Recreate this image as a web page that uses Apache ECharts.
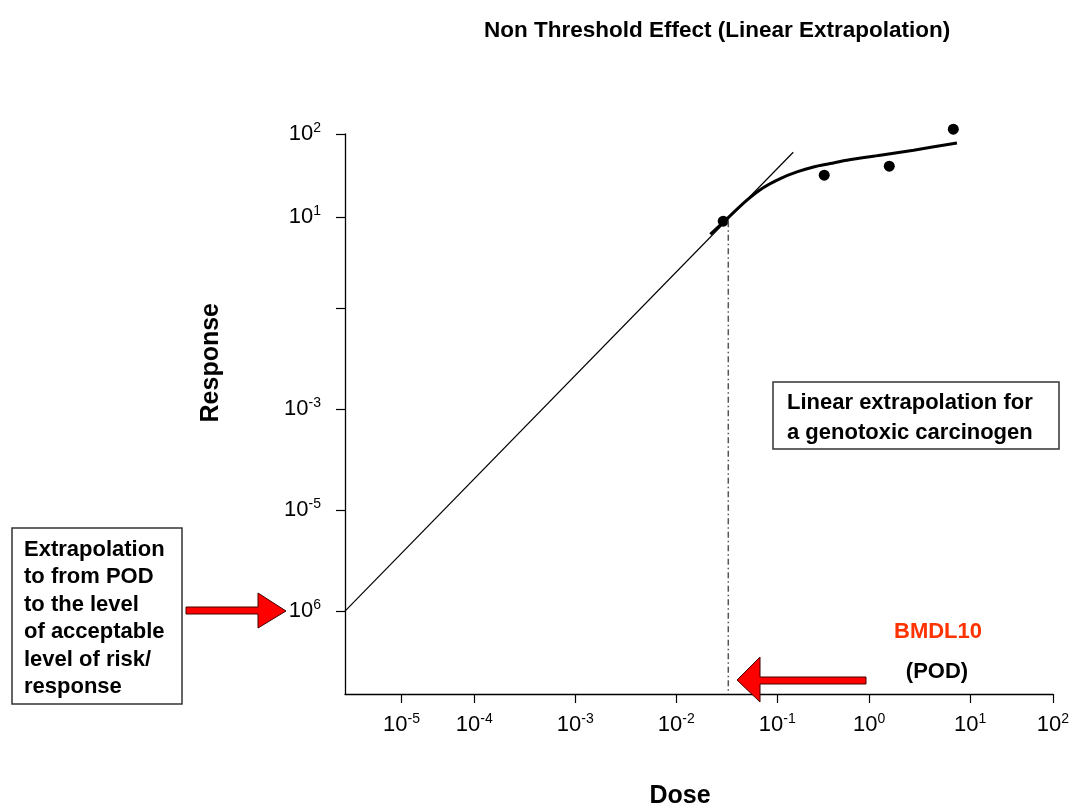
<!DOCTYPE html>
<html>
<head>
<meta charset="utf-8">
<script src="https://cdn.jsdelivr.net/npm/echarts@6/dist/echarts.min.js"></script>
<style>
  html, body { margin: 0; padding: 0; background: #fff; }
  #main { width: 1072px; height: 808px; }
</style>
</head>
<body>
<div id="main"></div>
<script>
// schematic axes: tick positions along the drawn axis and the exponent printed at each
var doseTicks = [-4.72, -4, -3, -2, -1, -0.09, 0.91, 1.73];
var doseTickLabels = ['-5', '-4', '-3', '-2', '-1', '0', '1', '2'];
var respTicks = [2.45, 0.8, -1, -3, -5, -7];
var respTickLabels = ['2', '1', '', '-3', '-5', '6'];

// observed responses
var obsDose = [-1.535, -0.535, 0.109, 0.743];
var obsResp = [0.723, 1.634, 1.812, 2.545];

// fitted dose-response curve
var fitDose = [-1.663, -1.532, -1.300, -1.136, -0.970, -0.805, -0.641, -0.475, -0.310, 0.020, 0.350, 0.779];
var fitResp = [0.465, 0.709, 1.139, 1.390, 1.568, 1.699, 1.798, 1.865, 1.931, 2.030, 2.129, 2.273];

// linear extrapolation from the POD down to the acceptable level
var lineDose = [-5.28, -0.842];
var lineResp = [-7.0, 2.089];

// BMDL10 (POD)
var podDose = -1.485;
var podResp = 0.72;

var FONT = "'Liberation Sans', Arial, sans-serif";

function pairs(xs, ys) {
    var out = [];
    for (var i = 0; i < xs.length; i++) {
        out.push([xs[i], ys[i]]);
    }
    return out;
}

function powLabel(ticks, labels) {
    return function (value) {
        for (var i = 0; i < ticks.length; i++) {
            if (Math.abs(ticks[i] - value) < 1e-6) {
                if (labels[i] === '') return '';
                return '{b|10}{s|' + labels[i] + '}';
            }
        }
        return '';
    };
}

var richPow = {
    b: { fontSize: 22, lineHeight: 26, fontFamily: FONT, color: '#000' },
    s: { fontSize: 14, lineHeight: 14, verticalAlign: 'top', fontFamily: FONT, color: '#000' }
};

var chart = echarts.init(document.getElementById('main'));

var option = {
    animation: false,
    backgroundColor: '#fff',
    title: {
        text: 'Non Threshold Effect (Linear Extrapolation)',
        left: 479,
        top: 14,
        textStyle: { fontFamily: FONT, fontSize: 22.5, fontWeight: 'bold', color: '#000' }
    },
    grid: { left: 345, top: 134, width: 708, height: 560, containLabel: false, outerBoundsMode: 'none' },
    xAxis: {
        type: 'value',
        min: -5.28,
        max: 1.73,
        splitLine: { show: false },
        axisLine: { onZero: false, lineStyle: { color: '#000', width: 1.3 } },
        axisTick: { customValues: doseTicks, length: 9, lineStyle: { color: '#000', width: 1.2 } },
        axisLabel: {
            customValues: doseTicks,
            margin: 18,
            formatter: powLabel(doseTicks, doseTickLabels),
            rich: richPow
        },
        name: 'Dose',
        nameLocation: 'middle',
        nameGap: 90,
        nameTextStyle: { fontFamily: FONT, fontSize: 25, fontWeight: 'bold', color: '#000', padding: [0, 38, 0, 0] }
    },
    yAxis: {
        type: 'value',
        min: -8.64,
        max: 2.45,
        splitLine: { show: false },
        axisLine: { onZero: false, lineStyle: { color: '#000', width: 1.3 } },
        axisTick: { customValues: respTicks, length: 9, lineStyle: { color: '#000', width: 1.2 } },
        axisLabel: {
            customValues: respTicks,
            margin: 24,
            formatter: powLabel(respTicks, respTickLabels),
            rich: richPow
        }
    },
    graphic: [
        {
            type: 'text', left: 199, top: 303, rotation: Math.PI / 2,
            style: { text: 'Response', font: 'bold 25px ' + FONT, fill: '#000' }
        },
        {
            type: 'rect', shape: { x: 12, y: 528, width: 170, height: 176 },
            style: { fill: '#fff', stroke: '#333', lineWidth: 1.5 }
        },
        {
            type: 'text', x: 24, y: 536,
            style: {
                text: 'Extrapolation\nto from POD\nto the level\nof acceptable\nlevel of risk/\nresponse',
                font: 'bold 22px ' + FONT, lineHeight: 27.5, fill: '#000'
            }
        },
        {
            type: 'rect', shape: { x: 773, y: 382, width: 286, height: 67 },
            style: { fill: '#fff', stroke: '#333', lineWidth: 1.5 }
        },
        {
            type: 'text', x: 787, y: 388,
            style: {
                text: 'Linear extrapolation for\na genotoxic carcinogen',
                font: 'bold 22px ' + FONT, lineHeight: 30, fill: '#000'
            }
        },
        {
            type: 'polygon', z: 100,
            shape: { points: [[186, 607], [258, 607], [258, 593], [286, 611], [258, 628], [258, 614], [186, 614]] },
            style: { fill: '#ff0000', stroke: '#400', lineWidth: 1 }
        },
        {
            type: 'polygon', z: 100,
            shape: { points: [[866, 677], [760, 677], [760, 657], [737, 680], [760, 702], [760, 684], [866, 684]] },
            style: { fill: '#ff0000', stroke: '#400', lineWidth: 1 }
        },
        {
            type: 'text', x: 938, y: 632,
            style: { text: 'BMDL10', font: 'bold 22px ' + FONT, fill: '#ff3300', align: 'center', verticalAlign: 'middle' }
        },
        {
            type: 'text', x: 937, y: 672,
            style: { text: '(POD)', font: 'bold 22px ' + FONT, fill: '#000', align: 'center', verticalAlign: 'middle' }
        }
    ],
    series: [
        {
            name: 'Linear extrapolation',
            type: 'line',
            data: pairs(lineDose, lineResp),
            symbol: 'none',
            clip: false,
            lineStyle: { color: '#000', width: 1.2 }
        },
        {
            name: 'POD',
            type: 'line',
            data: [[podDose, podResp], [podDose, -8.64]],
            symbol: 'none',
            lineStyle: { color: '#555', width: 1.5, type: [6, 3, 1.5, 3] }
        },
        {
            name: 'Fit',
            type: 'line',
            data: pairs(fitDose, fitResp),
            smooth: 0.3,
            symbol: 'none',
            clip: false,
            lineStyle: { color: '#000', width: 3 }
        },
        {
            name: 'Observed',
            type: 'scatter',
            data: pairs(obsDose, obsResp),
            symbolSize: 11,
            clip: false,
            itemStyle: { color: '#000', opacity: 1 }
        }
    ]
};

chart.setOption(option);
</script>
</body>
</html>
